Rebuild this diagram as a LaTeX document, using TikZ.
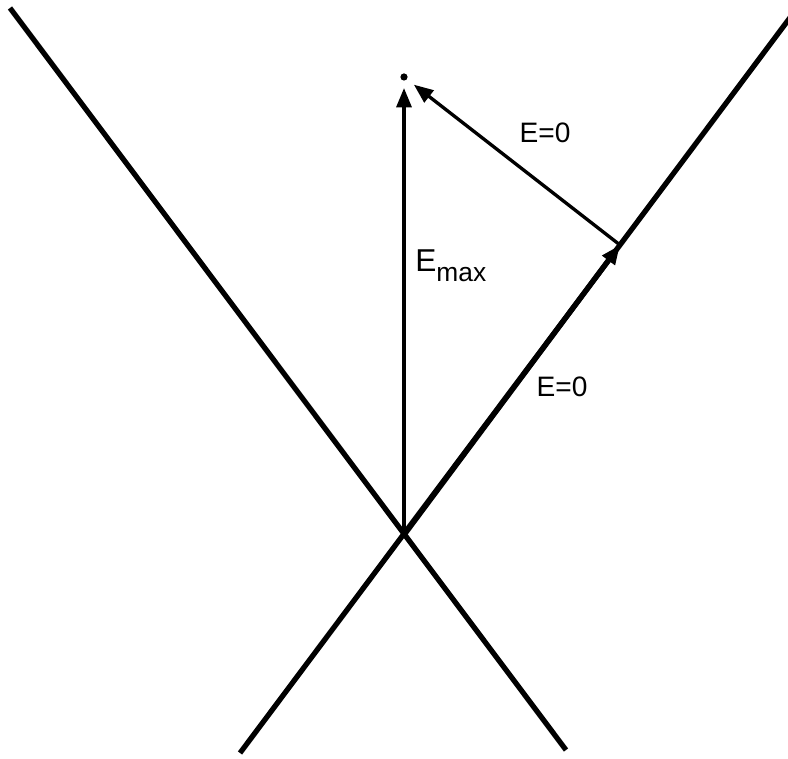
\documentclass[tikz,border=0pt]{standalone}
\usepackage{fontspec}
\setmainfont{Liberation Sans}
\usetikzlibrary{arrows.meta}

\tikzset{
  coneline/.style={line width=3pt, line cap=butt},
  vecline/.style={line width=1.9pt, -{Triangle[length=11pt, width=8.5pt]}},
  lbl/.style={font=\fontsize{16}{19}\selectfont, inner sep=0pt}
}

\begin{document}
\begin{tikzpicture}[x=0.02cm, y=-0.02cm]
		\useasboundingbox (0,0) rectangle (788,759);
		
		\coordinate (O) at (404,535);
		\coordinate (La) at (10,8);
		\coordinate (Lb) at (566,750);
		\coordinate (Ra) at (240,753);
		\coordinate (Rb) at (792,15);
		\coordinate (P) at (620,245);
		\coordinate (T) at (404,77);
		
		% Light cone
		\draw[coneline] (La) -- (Lb);
		\draw[coneline] (Ra) -- (Rb);
		\draw[coneline, -{Triangle[length=11pt, width=8.5pt]}] (O) -- (P);
		
		% Vectors to the dot
		\draw[vecline, shorten >=0.22cm] (O) -- (T);
		\draw[vecline, shorten >=0.25cm] (P) -- (T);
		\fill (T) circle (3.6);
		
		% Labels
		\node[lbl] (e0top) at (545,133) {E=0};
		\node[lbl] (e0low) at (562,387) {E=0};
		\node[lbl, anchor=base west] (emax) at (415,272)
		  {\fontsize{18}{20}\selectfont E\raisebox{-5.6pt}{\fontsize{15}{18}\selectfont max}};
		
	\end{tikzpicture}
\end{document}
